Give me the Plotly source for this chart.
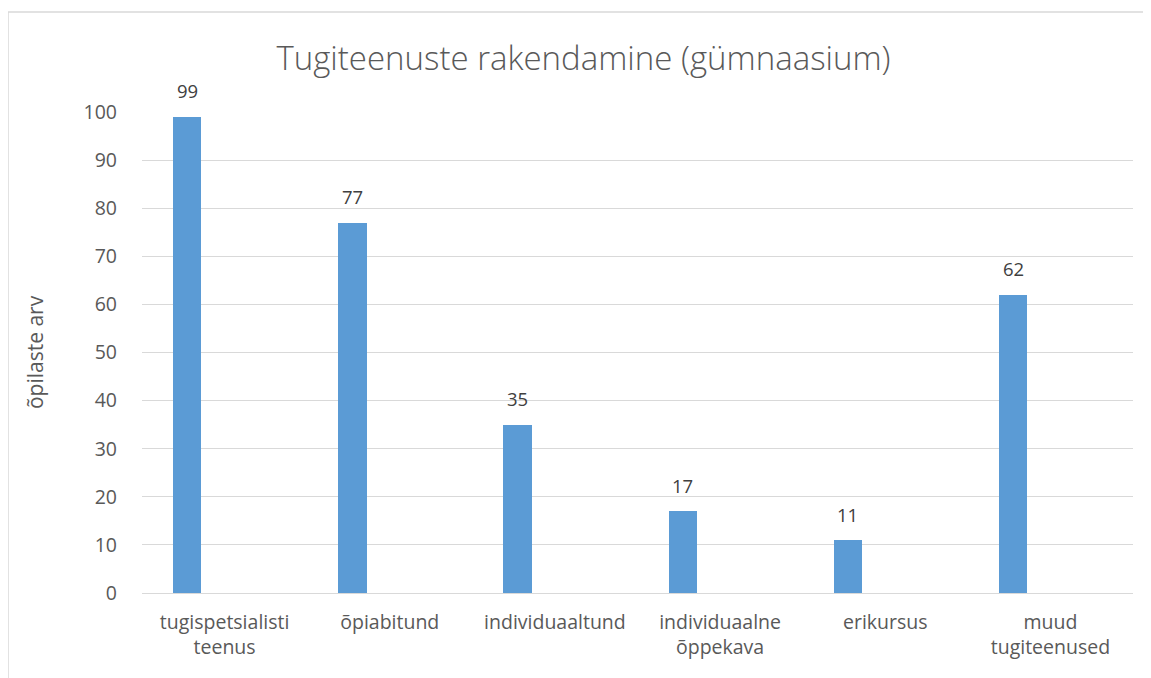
import plotly.graph_objects as go

categories = ["tugispetsialisti<br>teenus", "õpiabitund", "individuaaltund",
              "individuaalne<br>õppekava", "erikursus", "muud<br>tugiteenused"]
values = [99, 77, 35, 17, 11, 62]
title_text = "Tugiteenuste rakendamine (gümnaasium)"
y_title = "õpilaste arv"
y_ticks = list(range(0, 101, 10))

# page has an 8px body margin; margins below are relative to the figure
OFF = 8
W, H = 1151, 678
L, T = 142 - OFF, 112 - OFF
R = W - (1133 - OFF)
B = H - (593 - OFF)
pw = W - L - R
ph = H - T - B

BAR_W, BAR_OFF = 0.172, -0.312
cat_px = pw / len(categories)

fig = go.Figure()
fig.add_trace(go.Bar(
    x=categories, y=values,
    marker=dict(color="#5b9bd5", line=dict(width=0)),
    width=BAR_W, offset=BAR_OFF,
    hoverinfo="x+y",
))

for c, v in zip(categories, values):
    fig.add_annotation(x=c, y=v, text=str(v), showarrow=False,
                       xshift=(BAR_OFF + BAR_W / 2) * cat_px, yshift=26,
                       xanchor="center", yanchor="middle",
                       font=dict(family="Open Sans", size=18.5, color="#404040"))

fig.update_layout(
    width=W, height=H,
    margin=dict(l=L, r=R, t=T, b=B),
    paper_bgcolor="white", plot_bgcolor="white",
    showlegend=False,
    title=dict(text=title_text, x=0.5, xref="container", xanchor="center",
               y=1 - (58 - OFF) / H, yref="container", yanchor="middle",
               font=dict(family="Open Sans", size=33, color="#595959", weight=300)),
    xaxis=dict(showgrid=False, showline=False, ticks="",
               tickfont=dict(family="Open Sans", size=19.5, color="#595959"),
               ticklabelstandoff=15),
    yaxis=dict(range=[0, 100], tickvals=y_ticks, showgrid=True,
               gridcolor="#d9d9d9", gridwidth=1, zeroline=True,
               zerolinecolor="#d9d9d9", zerolinewidth=1, showline=False,
               tickfont=dict(family="Open Sans", size=19.5, color="#595959"),
               ticklabelstandoff=24,
               title=dict(text=y_title, standoff=34,
                          font=dict(family="Open Sans", size=21, color="#595959"))),
    bargap=0.0,
)

fig.add_shape(type="rect", xref="paper", yref="paper",
              x0=(8 - 142) / pw, x1=(1147 - 142) / pw,
              y0=(593 - 700) / ph, y1=(593 - 12) / ph,
              line=dict(color="#d9d9d9", width=1.5), fillcolor="rgba(0,0,0,0)",
              layer="below")

fig.write_html("out.html")
